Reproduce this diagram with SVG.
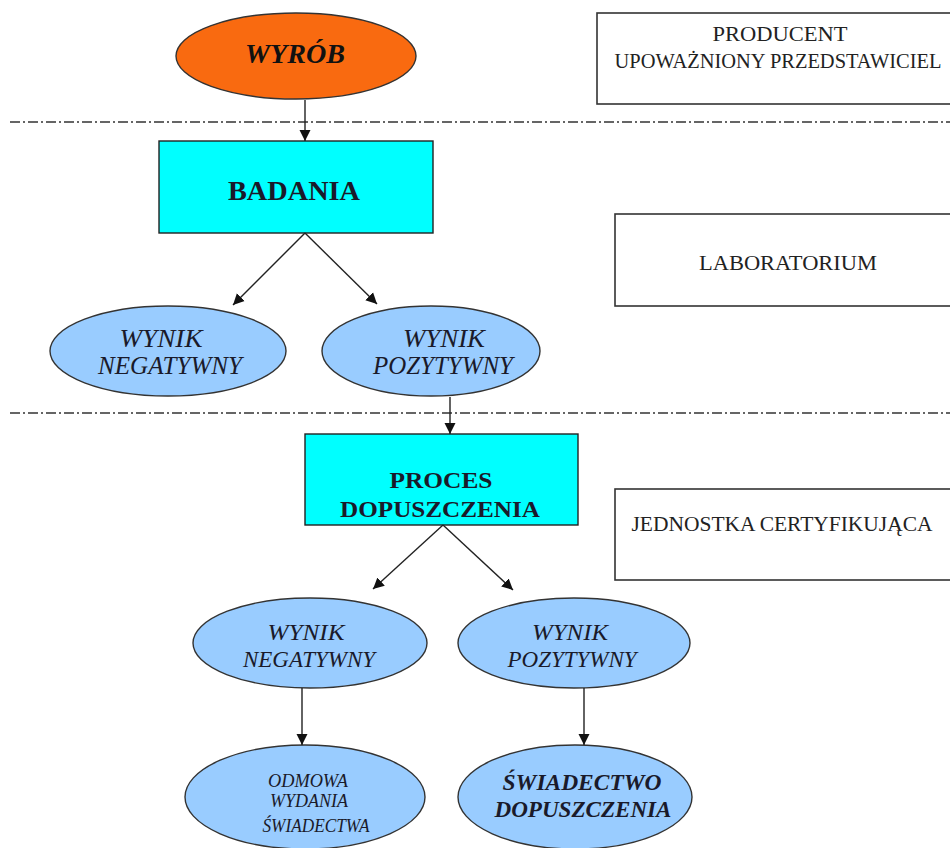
<svg xmlns="http://www.w3.org/2000/svg" width="950" height="848" viewBox="0 0 950 848">
<defs>
<marker id="arr" markerUnits="userSpaceOnUse" markerWidth="12" markerHeight="12" viewBox="0 0 12 12" refX="11" refY="6" orient="auto">
<path d="M0,0.5 L11,6 L0,11.5 Z" fill="#111"/>
</marker>
<style>
.box{fill:#fff;stroke:#333;stroke-width:1.6}
.rect{fill:#00FFFF;stroke:#222;stroke-width:1.4}
.ell{fill:#99CCFF;stroke:#333;stroke-width:1.4}
.org{fill:#F96A10;stroke:#333;stroke-width:1.4}
.sep{stroke:#333;stroke-width:1.4;stroke-dasharray:10 3 2 3;fill:none}
.con{stroke:#222;stroke-width:1.4;fill:none;marker-end:url(#arr)}
text{font-family:"Liberation Serif","Times New Roman",serif;fill:#1a1a2a;text-anchor:middle}
.side{font-size:20px;fill:#222}
.bold{font-weight:bold}
.it{font-style:italic}
</style>
</defs>
<rect width="950" height="848" fill="#fff"/>
<line class="sep" x1="10" y1="122" x2="950" y2="122"/>
<line class="sep" x1="10" y1="413" x2="950" y2="413"/>

<g id="producent">
<rect class="box" x="597" y="13" width="370" height="91"/>
<text class="side" x="780" y="41" font-size="21" textLength="135" lengthAdjust="spacingAndGlyphs">PRODUCENT</text>
<text class="side" x="778" y="68" textLength="327" lengthAdjust="spacingAndGlyphs">UPOWAŻNIONY PRZEDSTAWICIEL</text>
</g>
<g id="laboratorium">
<rect class="box" x="615" y="214" width="350" height="92"/>
<text class="side" x="788" y="270" font-size="21" textLength="178" lengthAdjust="spacingAndGlyphs">LABORATORIUM</text>
</g>
<g id="jednostka">
<rect class="box" x="615" y="489" width="350" height="91"/>
<text class="side" x="782" y="531" font-size="21" textLength="301" lengthAdjust="spacingAndGlyphs">JEDNOSTKA CERTYFIKUJĄCA</text>
</g>

<g id="wyrob">
<ellipse class="org" cx="296" cy="56" rx="120" ry="43"/>
<text class="bold it" x="295" y="63" font-size="28" textLength="100" lengthAdjust="spacingAndGlyphs" style="fill:#111">WYRÓB</text>
</g>
<g id="badania">
<rect class="rect" x="159" y="141" width="274" height="92"/>
<text class="bold" x="294" y="200" font-size="28" textLength="132" lengthAdjust="spacingAndGlyphs">BADANIA</text>
</g>
<g id="neg1">
<ellipse class="ell" cx="168" cy="351" rx="118" ry="45"/>
<text class="it" x="161" y="347" font-size="25" textLength="83" lengthAdjust="spacingAndGlyphs">WYNIK</text>
<text class="it" x="170" y="374" font-size="25" textLength="144" lengthAdjust="spacingAndGlyphs">NEGATYWNY</text>
</g>
<g id="poz1">
<ellipse class="ell" cx="431" cy="351" rx="109" ry="45"/>
<text class="it" x="444" y="347" font-size="25" textLength="82" lengthAdjust="spacingAndGlyphs">WYNIK</text>
<text class="it" x="443" y="374" font-size="25" textLength="140" lengthAdjust="spacingAndGlyphs">POZYTYWNY</text>
</g>
<g id="proces">
<rect class="rect" x="305" y="434" width="273" height="91"/>
<text class="bold" x="441" y="488" font-size="24" textLength="103" lengthAdjust="spacingAndGlyphs">PROCES</text>
<text class="bold" x="440" y="517" font-size="24" textLength="200" lengthAdjust="spacingAndGlyphs">DOPUSZCZENIA</text>
</g>
<g id="neg2">
<ellipse class="ell" cx="310" cy="643" rx="117" ry="45"/>
<text class="it" x="306" y="640" font-size="23" textLength="77" lengthAdjust="spacingAndGlyphs">WYNIK</text>
<text class="it" x="309" y="667" font-size="23" textLength="132" lengthAdjust="spacingAndGlyphs">NEGATYWNY</text>
</g>
<g id="poz2">
<ellipse class="ell" cx="574" cy="643" rx="116" ry="45"/>
<text class="it" x="570" y="640" font-size="23" textLength="76" lengthAdjust="spacingAndGlyphs">WYNIK</text>
<text class="it" x="572" y="667" font-size="23" textLength="129" lengthAdjust="spacingAndGlyphs">POZYTYWNY</text>
</g>
<g id="odmowa">
<ellipse class="ell" cx="305" cy="797" rx="120" ry="52"/>
<text class="it" x="308" y="787" font-size="18" textLength="80" lengthAdjust="spacingAndGlyphs">ODMOWA</text>
<text class="it" x="309" y="807" font-size="18" textLength="78" lengthAdjust="spacingAndGlyphs">WYDANIA</text>
<text class="it" x="316" y="832" font-size="18" textLength="107" lengthAdjust="spacingAndGlyphs">ŚWIADECTWA</text>
</g>
<g id="swiadectwo">
<ellipse class="ell" cx="575" cy="797" rx="117" ry="52"/>
<text class="bold it" x="582" y="790" font-size="23" textLength="159" lengthAdjust="spacingAndGlyphs">ŚWIADECTWO</text>
<text class="bold it" x="583" y="817" font-size="23" textLength="177" lengthAdjust="spacingAndGlyphs">DOPUSZCZENIA</text>
</g>

<g id="connectors">
<line class="con" x1="305" y1="100" x2="305" y2="141"/>
<line class="con" x1="305" y1="233" x2="233" y2="305"/>
<line class="con" x1="305" y1="233" x2="377" y2="304"/>
<line class="con" x1="450" y1="397" x2="450" y2="434"/>
<line class="con" x1="443" y1="525" x2="373" y2="589"/>
<line class="con" x1="443" y1="525" x2="513" y2="590"/>
<line class="con" x1="302" y1="688" x2="302" y2="745"/>
<line class="con" x1="584" y1="688" x2="584" y2="745"/>
</g>
</svg>
